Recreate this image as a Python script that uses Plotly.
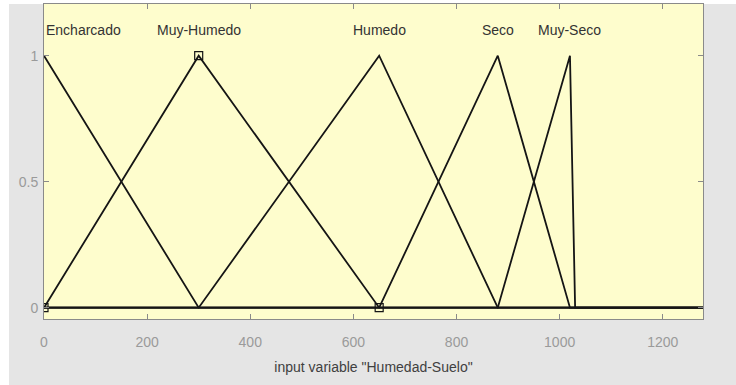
import plotly.graph_objects as go

# Membership function definitions (triangular: a, b, c)
mf_names = ["Encharcado", "Muy-Humedo", "Humedo", "Seco", "Muy-Seco"]
mf_a = [-300, 0, 300, 650, 880]
mf_b = [0, 300, 650, 880, 1020]
mf_c = [300, 650, 880, 1020, 1030]
x_range = [0, 1278]
x_ticks = [0, 200, 400, 600, 800, 1000, 1200]
y_ticks = [0, 0.5, 1]
label_y = 1.1
selected_mf = 1  # Muy-Humedo shown with handles

def trimf(x, a, b, c):
    if x <= a or x >= c:
        return 1.0 if x == b else 0.0
    if x <= b:
        return (x - a) / (b - a) if b != a else 1.0
    return (c - x) / (c - b) if c != b else 1.0

fig = go.Figure()
line_col = "#151515"
for name, a, b, c in zip(mf_names, mf_a, mf_b, mf_c):
    pts = sorted(set([x_range[0], x_range[1]] + [p for p in (a, b, c) if x_range[0] <= p <= x_range[1]]))
    ys = [trimf(p, a, b, c) for p in pts]
    fig.add_trace(go.Scatter(x=pts, y=ys, mode="lines",
                             line=dict(color=line_col, width=1.8),
                             showlegend=False, hoverinfo="skip"))

# handles of selected mf
sa, sb, sc = mf_a[selected_mf], mf_b[selected_mf], mf_c[selected_mf]
hx = [sa, sb, sc]
hy = [0, 1, 0]
fig.add_trace(go.Scatter(x=hx, y=hy, mode="markers",
                         marker=dict(symbol="square-open", size=8, color=line_col,
                                     line=dict(width=1.2, color=line_col)),
                         showlegend=False, hoverinfo="skip"))

font_family = "Liberation Sans, Arial, sans-serif"
annotations = []
for i, (name, b) in enumerate(zip(mf_names, mf_b)):
    xpos = max(b, x_range[0])
    annotations.append(dict(x=xpos, y=label_y, xref="x", yref="y", text=name,
                            showarrow=False, xanchor="left" if b <= x_range[0] else "center",
                            yanchor="middle",
                            font=dict(family=font_family, size=14, color="#333333")))

W, H = 736, 385
L, R, T, B = 44, 33, 4, 66
pw, ph = W - L - R, H - T - B
shapes = [
    dict(type="rect", xref="paper", yref="paper",
         x0=(9 - L) / pw, x1=(W - L) / pw + 0.01, y0=-(B + 2) / ph, y1=1.0,
         fillcolor="#e5e5e5", line=dict(width=0), layer="below"),
    dict(type="rect", xref="paper", yref="paper", x0=0, x1=1, y0=0, y1=1,
         fillcolor="#fefdcd", line=dict(width=0), layer="below"),
]

axis_common = dict(showline=True, linecolor="#8a8a8a", linewidth=1, mirror="ticks",
                   ticks="inside", ticklen=5, tickcolor="#8a8a8a", showgrid=False,
                   zeroline=False, tickfont=dict(family=font_family, size=14, color="#9a9a9a"))

fig.update_layout(
    width=W, height=H,
    margin=dict(l=L, r=R, t=T, b=B),
    paper_bgcolor="white",
    plot_bgcolor="#fefdcd",
    shapes=shapes,
    annotations=annotations,
    xaxis=dict(range=x_range, tickvals=x_ticks, ticktext=[str(t) for t in x_ticks],
               title=dict(text='input variable "Humedad-Suelo"',
                          font=dict(family=font_family, size=14, color="#404040"), standoff=13),
               ticklabelstandoff=10, **axis_common),
    yaxis=dict(range=[-0.045, 1.205], tickvals=y_ticks, ticktext=["0", "0.5", "1"],
               ticklabelstandoff=2, **axis_common),
)

fig.write_html("out.html", config={"displayModeBar": False},
               post_script="document.body.style.margin='0px';document.body.style.overflow='hidden';")
